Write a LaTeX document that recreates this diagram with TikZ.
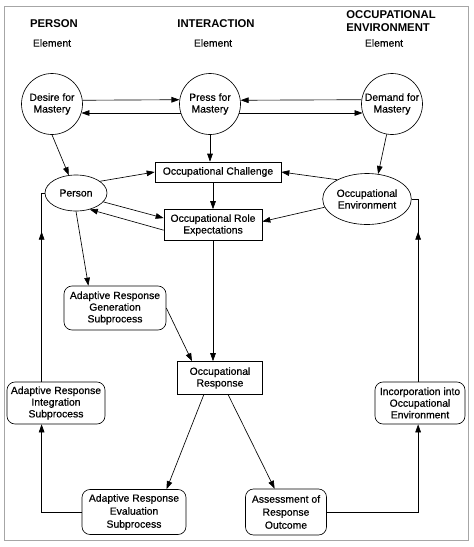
\documentclass[tikz,border=0pt]{standalone}
\usepackage{fontspec}
\setmainfont{Liberation Sans}
\newfontfamily\boxfont{Liberation Sans}[FakeBold=0.5]
\usetikzlibrary{shapes,arrows.meta,calc,decorations.markings}

\begin{document}
\begin{tikzpicture}[x=1pt, y=-1pt, line width=0.65pt, >={Triangle[length=8pt,width=5.6pt]},
    every node/.style={font=\boxfont\fontsize{10.4}{11.7}\selectfont, align=center, inner sep=1pt},
    head/.style={font=\fontsize{11.3}{13}\selectfont\bfseries},
    circ/.style={circle, draw, minimum size=61pt},
    oval/.style={ellipse, draw},
    box/.style={rectangle, draw},
    rbox/.style={rectangle, rounded corners=8pt, draw},
    midarrow/.style={postaction={decorate}, decoration={markings, mark=at position #1 with {\arrow{>}}}}]
    \useasboundingbox (0,0) rectangle (474,547);
    \draw[black!35, line width=0.8pt] (4,6) rectangle (468,540);

    % column headings
    \node[head] (hperson) at (54,24) {PERSON};
    \node[head] (hinter) at (216,24) {INTERACTION};
    \node[head, align=left] (henv) at (391,21.5) {OCCUPATIONAL\\ENVIRONMENT};
    \node (eperson) at (52,43) {Element};
    \node (einter) at (213,43) {Element};
    \node (eenv) at (384,43) {Element};

    % mastery circles
    \node[circ] (desire) at (52,104) {Desire for\\Mastery};
    \node[circ] (press) at (210,104) {Press for\\Mastery};
    \node[circ] (demand) at (392,104) {Demand for\\Mastery};

    \node[box, minimum width=126pt, minimum height=20pt] (challenge) at (218,172) {Occupational Challenge};
    \node[oval, minimum width=62pt, minimum height=36pt] (person) at (76,193) {Person};
    \node[oval, minimum width=83pt, minimum height=51pt] (environ) at (367,199) {Occupational\\Environment};
    \node[box, minimum width=98pt, minimum height=31pt] (roleexp) at (213,225) {Occupational Role\\Expectations};

    % subprocesses
    \node[rbox, minimum width=102pt, minimum height=44pt] (generation) at (115,308) {Adaptive Response\\Generation\\Subprocess};
    \node[box, minimum width=85pt, minimum height=33pt] (response) at (220,378) {Occupational\\Response};
    \node[rbox, minimum width=98pt, minimum height=42pt] (integration) at (56,403) {Adaptive Response\\Integration\\Subprocess};
    \node[rbox, minimum width=90pt, minimum height=42pt] (incorporation) at (420,403) {Incorporation into\\Occupational\\Environment};
    \node[rbox, minimum width=104pt, minimum height=45pt] (evaluation) at (134,512) {Adaptive Response\\[1.3pt]Evaluation\\[1.3pt]Subprocess};
    \node[rbox, minimum width=81pt, minimum height=46pt] (assessment) at (286,512) {Assessment of\\[1.3pt]Response\\[1.3pt]Outcome};

    \draw[->] (desire.7.5) -- (press.172.5);
    \draw[->] (press.197) -- (desire.-17);
    \draw[->] (demand.172.5) -- (press.7.5);
    \draw[->] (press.-17) -- (demand.197);

    \draw[->] (desire.south) -- (person.112);
    \draw[->] (press.south) -- (press.south |- challenge.north);
    \draw[->] (demand.260) -- (environ.66);

    \draw[->] (person.26) -- (challenge.west);
    \draw[->] (environ.147) -- (challenge.east);
    \draw[->] (challenge.south -| roleexp.north) -- (roleexp.north);
    \draw[->] (person.-18) -- (roleexp.172);
    \draw[->] (roleexp.186) -- (person.-50);
    \draw[->] (environ.191) -- (roleexp.4);

    \draw[->] (roleexp.south) -- (roleexp.south |- response.north);
    \draw[->] (person.south) -- (generation.140);
    \draw[->] (generation.east) -- (response.149);
    \draw[->] (response.226) -- (evaluation.35);
    \draw[->] (response.296) -- (assessment.116);

    % feedback loops
    \draw[->] (evaluation.west) -| (integration.236);
    \draw[midarrow=150pt] (integration.124) |- (person.west);
    \draw[->] (assessment.east) -| (incorporation.265);
    \draw[midarrow=150pt] (incorporation.95) |- (environ.east);
\end{tikzpicture}
\end{document}
